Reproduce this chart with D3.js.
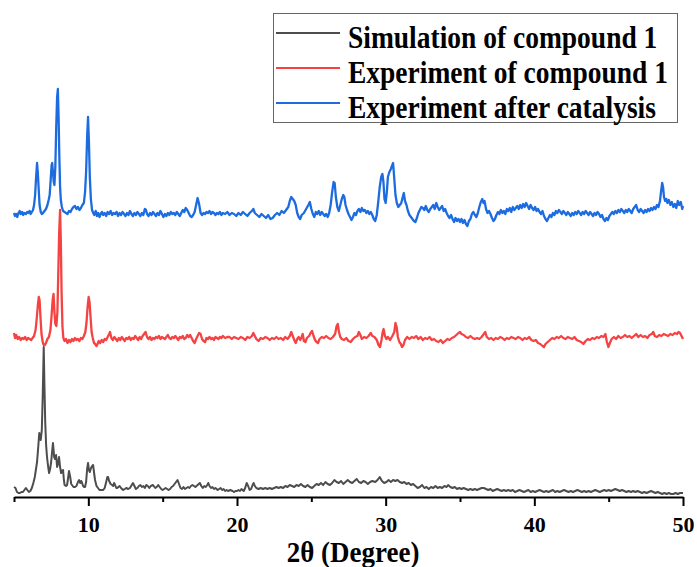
<!DOCTYPE html>
<html>
<head>
<meta charset="utf-8">
<script src="https://cdn.jsdelivr.net/npm/d3@7"></script>
<style>
  body { margin: 0; background: #fff; }
</style>
</head>
<body>
<div id="chart"></div>
<script>
const seriesNames  = ["Simulation of compound 1", "Experiment of compound 1", "Experiment after catalysis"];
const seriesColors = ["#4d4d4d", "#f54242", "#1c6ce0"];
const seriesOffset = [0, 145, 270];
const majorTicks = [10, 20, 30, 40, 50];
const minorTicks = [5, 15, 25, 35, 45];
const serif = '"Liberation Serif"';

// [2θ, intensity]
const simulation = [[5.0,10],[5.1,9],[5.2,5],[5.3,4],[5.4,4],[5.5,5],[5.6,5],[5.7,7],[5.8,9],[5.9,7],[6.0,5],[6.1,6],[6.2,9],[6.3,14],[6.4,20],[6.5,30],[6.55,35],[6.62,48],[6.7,64],[6.76,58],[6.8,57],[6.87,67],[6.93,100],[7.0,150],[7.05,110],[7.1,75],[7.16,52],[7.22,40],[7.3,30],[7.36,24],[7.43,28],[7.5,35],[7.56,45],[7.62,54],[7.67,46],[7.7,40],[7.76,38],[7.83,42],[7.9,30],[7.96,33],[8.03,40],[8.1,30],[8.17,24],[8.23,26],[8.3,27],[8.35,18],[8.4,12],[8.5,11],[8.57,12],[8.63,18],[8.7,26],[8.78,20],[8.85,13],[8.9,12],[9.0,10],[9.1,10],[9.2,11],[9.3,15],[9.38,17],[9.45,14],[9.52,16],[9.58,14],[9.65,11],[9.72,10],[9.78,10],[9.85,15],[9.92,28],[9.98,34],[10.04,27],[10.1,25],[10.18,29],[10.26,31],[10.32,32],[10.38,25],[10.45,17],[10.55,11],[10.65,9],[10.75,7],[10.85,7],[11.0,7],[11.1,9],[11.2,15],[11.28,20],[11.33,20],[11.4,16],[11.5,13],[11.6,12],[11.67,11],[11.73,14],[11.8,12],[11.88,9],[11.94,9],[12.02,10],[12.1,11],[12.2,9],[12.34,7],[12.45,8],[12.55,9],[12.68,8],[12.8,9],[12.92,12],[13.0,14],[13.1,11],[13.2,8],[13.3,9],[13.4,11],[13.5,12],[13.6,10],[13.7,11],[13.8,9],[13.9,12],[14.0,11],[14.1,9],[14.2,11],[14.35,12],[14.5,9],[14.6,10],[14.7,12],[14.8,10],[14.9,8],[15.0,7],[15.1,8],[15.2,9],[15.3,8],[15.4,7],[15.5,8],[15.6,10],[15.7,11],[15.8,13],[15.9,15],[16.0,17],[16.1,13],[16.2,9],[16.3,8],[16.4,10],[16.5,8],[16.6,9],[16.7,10],[16.8,9],[16.9,11],[17.0,12],[17.1,11],[17.2,10],[17.35,12],[17.5,14],[17.6,11],[17.7,9],[17.8,11],[17.9,10],[18.0,12],[18.07,14],[18.15,11],[18.25,9],[18.35,10],[18.45,8],[18.55,9],[18.7,7],[18.8,8],[18.9,9],[19.0,7],[19.1,8],[19.2,6],[19.3,7],[19.4,6],[19.55,7],[19.7,6],[19.8,5],[19.9,6],[20.0,6],[20.1,7],[20.2,6],[20.3,8],[20.45,6],[20.55,9],[20.65,14],[20.75,11],[20.85,7],[20.95,8],[21.05,12],[21.12,14],[21.2,11],[21.3,9],[21.45,8],[21.6,9],[21.75,8],[21.9,9],[22.05,8],[22.2,9],[22.35,8],[22.5,9],[22.65,10],[22.8,9],[22.95,10],[23.1,9],[23.25,11],[23.4,10],[23.55,12],[23.7,11],[23.85,10],[24.0,12],[24.15,11],[24.3,13],[24.45,11],[24.6,10],[24.75,12],[24.9,10],[25.05,9],[25.2,11],[25.35,13],[25.5,12],[25.65,14],[25.8,12],[25.95,15],[26.1,13],[26.25,12],[26.4,14],[26.55,17],[26.7,15],[26.85,14],[27.0,16],[27.15,13],[27.3,15],[27.45,17],[27.6,15],[27.75,14],[27.9,16],[28.05,18],[28.2,15],[28.35,14],[28.5,16],[28.65,15],[28.8,13],[28.95,15],[29.1,16],[29.3,15],[29.45,17],[29.6,20],[29.75,16],[29.9,14],[30.05,15],[30.2,17],[30.35,15],[30.5,17],[30.65,16],[30.8,17],[30.95,15],[31.1,14],[31.25,15],[31.4,13],[31.55,14],[31.7,12],[31.85,13],[32.0,11],[32.15,9],[32.3,10],[32.45,12],[32.6,9],[32.75,10],[32.9,8],[33.05,10],[33.2,9],[33.35,11],[33.5,9],[33.65,10],[33.8,9],[33.95,11],[34.1,10],[34.2,12],[34.35,10],[34.5,9],[34.65,10],[34.8,8],[34.95,9],[35.1,8],[35.25,9],[35.4,8],[35.55,7],[35.7,8],[35.85,7],[36.0,8],[36.15,7],[36.3,8],[36.45,9],[36.6,9],[36.75,8],[36.9,7],[37.05,8],[37.2,6],[37.35,7],[37.5,8],[37.65,7],[37.8,6],[37.95,7],[38.1,6],[38.25,7],[38.4,6],[38.55,7],[38.7,5],[38.85,6],[39.0,7],[39.15,6],[39.3,5],[39.45,6],[39.6,7],[39.75,5],[39.9,6],[40.05,5],[40.2,6],[40.35,7],[40.5,6],[40.65,5],[40.8,6],[40.95,5],[41.1,6],[41.25,7],[41.4,5],[41.55,6],[41.7,5],[41.85,6],[42.0,7],[42.15,6],[42.3,5],[42.45,6],[42.6,5],[42.75,6],[42.9,7],[43.05,6],[43.2,5],[43.35,6],[43.5,5],[43.65,6],[43.8,5],[43.95,6],[44.1,7],[44.25,6],[44.4,5],[44.55,6],[44.7,7],[44.85,6],[45.0,7],[45.15,6],[45.3,7],[45.45,8],[45.6,7],[45.75,6],[45.9,7],[46.05,6],[46.2,5],[46.35,6],[46.5,5],[46.65,6],[46.8,5],[46.95,6],[47.1,5],[47.25,4],[47.4,5],[47.55,4],[47.7,5],[47.85,6],[48.0,5],[48.15,4],[48.3,5],[48.45,4],[48.6,3],[48.75,4],[48.9,3],[49.05,4],[49.2,3],[49.35,3],[49.5,4],[49.65,3],[49.8,4],[50.0,4]];

const experiment = [[5.0,19],[5.07,14],[5.15,17],[5.25,13],[5.35,15],[5.45,12],[5.55,14],[5.65,13],[5.75,15],[5.85,12],[5.95,14],[6.05,13],[6.15,12],[6.25,14],[6.35,16],[6.45,22],[6.52,32],[6.6,46],[6.67,55],[6.72,52],[6.78,35],[6.85,18],[6.93,10],[7.0,7],[7.08,7],[7.15,9],[7.25,13],[7.35,15],[7.45,22],[7.52,35],[7.6,52],[7.66,58],[7.72,40],[7.78,28],[7.85,26],[7.92,40],[7.98,80],[8.04,120],[8.1,142],[8.15,110],[8.2,60],[8.26,25],[8.32,14],[8.4,11],[8.5,13],[8.6,9],[8.7,12],[8.8,10],[8.9,13],[9.0,11],[9.1,14],[9.2,12],[9.3,13],[9.4,11],[9.5,14],[9.6,13],[9.7,16],[9.8,20],[9.88,30],[9.95,45],[10.02,55],[10.08,50],[10.15,35],[10.22,20],[10.3,14],[10.38,9],[10.46,8],[10.55,6],[10.62,8],[10.7,11],[10.8,9],[10.9,12],[11.0,10],[11.1,13],[11.2,12],[11.3,15],[11.4,18],[11.46,20],[11.55,14],[11.65,12],[11.75,15],[11.85,13],[11.95,11],[12.05,14],[12.15,12],[12.25,15],[12.35,13],[12.45,11],[12.55,14],[12.65,13],[12.75,15],[12.85,12],[12.95,14],[13.05,13],[13.15,16],[13.25,14],[13.35,12],[13.45,15],[13.55,13],[13.65,16],[13.75,18],[13.85,20],[13.95,15],[14.05,13],[14.15,15],[14.25,12],[14.35,14],[14.45,13],[14.55,15],[14.65,14],[14.75,16],[14.85,13],[14.95,15],[15.05,14],[15.15,13],[15.25,15],[15.35,17],[15.45,14],[15.55,13],[15.65,15],[15.75,14],[15.85,16],[15.95,14],[16.05,12],[16.15,15],[16.25,14],[16.35,16],[16.45,13],[16.55,14],[16.65,17],[16.75,15],[16.85,17],[16.95,14],[17.05,11],[17.15,9],[17.25,13],[17.35,16],[17.45,19],[17.55,18],[17.65,13],[17.75,11],[17.85,10],[17.95,14],[18.05,13],[18.15,15],[18.25,13],[18.35,14],[18.45,12],[18.55,15],[18.65,14],[18.75,13],[18.85,15],[18.95,14],[19.05,16],[19.2,14],[19.35,15],[19.5,15],[19.65,13],[19.8,15],[19.95,14],[20.1,13],[20.25,15],[20.4,14],[20.55,12],[20.7,15],[20.85,14],[21.0,16],[21.1,19],[21.2,16],[21.3,13],[21.45,11],[21.6,14],[21.75,13],[21.9,15],[22.05,14],[22.2,12],[22.35,14],[22.5,13],[22.65,15],[22.8,13],[22.95,14],[23.1,12],[23.25,15],[23.4,13],[23.55,16],[23.65,20],[23.75,16],[23.85,12],[23.95,9],[24.05,13],[24.15,15],[24.25,12],[24.35,15],[24.42,18],[24.5,11],[24.6,10],[24.7,14],[24.85,16],[24.95,19],[25.05,21],[25.15,16],[25.25,12],[25.35,10],[25.45,9],[25.55,13],[25.7,15],[25.85,14],[26.0,16],[26.15,14],[26.3,13],[26.45,15],[26.6,18],[26.7,26],[26.78,28],[26.86,20],[26.95,15],[27.05,13],[27.2,12],[27.35,14],[27.5,11],[27.65,10],[27.8,13],[27.95,15],[28.1,16],[28.2,20],[28.3,17],[28.4,13],[28.55,15],[28.7,14],[28.85,16],[29.0,19],[29.1,16],[29.25,15],[29.4,12],[29.52,7],[29.62,5],[29.72,12],[29.8,20],[29.86,23],[29.95,16],[30.05,13],[30.15,15],[30.3,12],[30.45,16],[30.58,20],[30.66,29],[30.74,25],[30.82,15],[30.92,10],[31.02,8],[31.1,5],[31.2,7],[31.3,12],[31.45,15],[31.6,13],[31.75,15],[31.9,14],[32.05,16],[32.2,13],[32.35,15],[32.5,12],[32.65,14],[32.8,13],[32.95,15],[33.1,12],[33.25,13],[33.4,11],[33.55,10],[33.7,12],[33.85,9],[34.0,11],[34.15,13],[34.3,12],[34.45,14],[34.6,15],[34.75,17],[34.9,19],[35.0,20],[35.1,18],[35.25,17],[35.4,15],[35.55,14],[35.7,16],[35.85,14],[36.0,13],[36.15,14],[36.3,13],[36.45,15],[36.6,18],[36.7,20],[36.8,15],[36.95,13],[37.1,14],[37.25,12],[37.4,14],[37.55,13],[37.7,15],[37.85,14],[38.0,12],[38.15,14],[38.3,13],[38.45,15],[38.6,14],[38.75,13],[38.9,15],[39.05,14],[39.2,12],[39.35,14],[39.5,13],[39.65,15],[39.8,12],[39.95,11],[40.1,12],[40.25,9],[40.4,8],[40.55,6],[40.65,5],[40.75,8],[40.9,10],[41.05,12],[41.2,14],[41.35,13],[41.5,15],[41.65,14],[41.8,16],[41.95,14],[42.1,13],[42.25,15],[42.4,14],[42.55,13],[42.7,15],[42.85,12],[43.0,11],[43.15,10],[43.3,8],[43.45,11],[43.6,13],[43.75,12],[43.9,14],[44.05,13],[44.2,15],[44.35,14],[44.5,16],[44.65,15],[44.78,18],[44.88,10],[44.98,5],[45.08,9],[45.2,13],[45.35,15],[45.5,13],[45.65,16],[45.8,14],[45.95,15],[46.1,17],[46.25,15],[46.4,16],[46.55,14],[46.7,16],[46.85,18],[47.0,15],[47.15,17],[47.3,15],[47.45,16],[47.6,14],[47.75,17],[47.9,18],[48.0,20],[48.1,16],[48.25,15],[48.4,17],[48.55,16],[48.7,18],[48.85,17],[49.0,16],[49.15,18],[49.3,17],[49.45,19],[49.6,18],[49.7,20],[49.8,19],[49.9,16],[50.0,13]];

const afterCatalysis = [[5.0,14],[5.07,11],[5.15,13],[5.22,10],[5.3,14],[5.38,16],[5.45,13],[5.55,15],[5.62,12],[5.7,14],[5.8,13],[5.88,15],[5.95,14],[6.05,16],[6.12,13],[6.2,15],[6.28,17],[6.35,22],[6.42,32],[6.48,48],[6.55,64],[6.6,55],[6.66,38],[6.72,22],[6.8,15],[6.87,13],[6.95,14],[7.05,16],[7.15,18],[7.25,22],[7.33,27],[7.4,32],[7.47,48],[7.53,62],[7.57,64],[7.62,55],[7.67,45],[7.72,42],[7.78,60],[7.84,100],[7.9,130],[7.95,138],[8.0,110],[8.05,70],[8.1,40],[8.15,27],[8.22,20],[8.3,16],[8.4,15],[8.5,14],[8.6,13],[8.7,16],[8.8,15],[8.9,18],[9.0,20],[9.1,21],[9.2,18],[9.3,20],[9.4,17],[9.5,19],[9.6,22],[9.7,24],[9.78,35],[9.85,55],[9.92,90],[9.98,110],[10.04,85],[10.1,50],[10.17,28],[10.25,17],[10.33,14],[10.4,12],[10.5,16],[10.58,11],[10.67,14],[10.75,10],[10.83,13],[10.92,15],[11.0,12],[11.1,14],[11.2,11],[11.3,15],[11.4,13],[11.5,16],[11.6,12],[11.7,14],[11.8,13],[11.9,15],[12.0,11],[12.1,14],[12.2,12],[12.3,15],[12.4,13],[12.5,11],[12.6,14],[12.7,12],[12.8,16],[12.9,13],[13.0,11],[13.1,14],[13.2,12],[13.3,15],[13.4,13],[13.5,11],[13.6,14],[13.7,12],[13.8,18],[13.88,17],[13.95,13],[14.05,11],[14.15,14],[14.25,12],[14.35,15],[14.45,13],[14.55,11],[14.65,14],[14.75,12],[14.85,16],[14.95,13],[15.05,10],[15.15,13],[15.25,11],[15.35,14],[15.45,12],[15.55,15],[15.65,13],[15.75,14],[15.85,12],[15.95,15],[16.05,13],[16.15,11],[16.25,14],[16.35,17],[16.45,15],[16.55,19],[16.65,17],[16.75,14],[16.85,11],[16.95,10],[17.05,12],[17.15,15],[17.25,22],[17.35,29],[17.45,23],[17.55,14],[17.65,12],[17.75,14],[17.85,13],[17.95,15],[18.05,14],[18.15,16],[18.25,13],[18.35,15],[18.45,14],[18.55,12],[18.65,14],[18.75,13],[18.85,15],[18.95,12],[19.05,14],[19.2,13],[19.35,15],[19.5,12],[19.65,14],[19.8,13],[19.95,11],[20.1,14],[20.25,12],[20.4,15],[20.55,13],[20.7,11],[20.85,14],[21.0,16],[21.1,18],[21.2,14],[21.35,12],[21.5,10],[21.65,13],[21.8,11],[21.95,9],[22.1,12],[22.25,8],[22.4,9],[22.55,12],[22.7,14],[22.85,12],[23.0,16],[23.15,14],[23.3,17],[23.45,20],[23.55,26],[23.65,30],[23.75,28],[23.85,26],[23.95,22],[24.05,14],[24.15,10],[24.25,8],[24.35,12],[24.5,14],[24.65,18],[24.8,22],[24.9,25],[25.0,18],[25.1,13],[25.2,10],[25.3,15],[25.4,13],[25.5,16],[25.6,12],[25.7,15],[25.8,13],[25.9,11],[26.0,13],[26.1,10],[26.2,14],[26.3,22],[26.4,35],[26.5,45],[26.57,44],[26.65,30],[26.75,20],[26.85,16],[26.95,22],[27.05,28],[27.15,32],[27.22,30],[27.3,22],[27.4,17],[27.5,13],[27.6,10],[27.7,7],[27.8,10],[27.9,14],[28.0,12],[28.1,16],[28.2,18],[28.3,15],[28.4,19],[28.5,16],[28.6,17],[28.7,14],[28.8,16],[28.9,13],[29.0,15],[29.1,12],[29.2,8],[29.3,6],[29.4,12],[29.5,25],[29.6,40],[29.7,50],[29.78,53],[29.85,45],[29.92,28],[30.0,24],[30.08,35],[30.15,50],[30.25,55],[30.35,58],[30.45,62],[30.5,64],[30.58,48],[30.66,32],[30.75,24],[30.85,20],[30.95,22],[31.05,24],[31.15,30],[31.22,34],[31.3,26],[31.4,22],[31.5,16],[31.6,12],[31.7,10],[31.8,8],[31.9,6],[32.0,5],[32.1,9],[32.2,14],[32.3,17],[32.4,20],[32.5,19],[32.6,17],[32.7,21],[32.8,17],[32.9,15],[33.0,18],[33.1,20],[33.2,22],[33.3,18],[33.4,24],[33.5,20],[33.6,17],[33.7,19],[33.8,21],[33.9,16],[34.0,18],[34.1,14],[34.2,11],[34.3,9],[34.4,12],[34.5,8],[34.6,5],[34.7,9],[34.8,6],[34.9,8],[35.0,5],[35.1,8],[35.2,4],[35.3,7],[35.4,3],[35.5,1],[35.6,6],[35.7,8],[35.8,13],[35.9,15],[36.0,12],[36.1,10],[36.2,14],[36.3,20],[36.4,25],[36.5,28],[36.58,24],[36.65,26],[36.75,18],[36.85,14],[36.95,16],[37.05,13],[37.15,9],[37.25,6],[37.35,8],[37.45,12],[37.55,15],[37.65,13],[37.75,17],[37.85,14],[37.95,16],[38.05,13],[38.15,18],[38.25,16],[38.35,19],[38.45,15],[38.55,20],[38.65,17],[38.75,19],[38.85,21],[38.95,18],[39.05,22],[39.15,19],[39.25,23],[39.35,20],[39.45,24],[39.55,21],[39.65,18],[39.75,22],[39.85,19],[39.95,17],[40.05,20],[40.15,16],[40.25,18],[40.35,15],[40.45,13],[40.55,16],[40.65,11],[40.75,8],[40.85,6],[40.95,9],[41.05,12],[41.15,10],[41.25,14],[41.35,12],[41.45,16],[41.55,14],[41.65,17],[41.75,15],[41.85,13],[41.95,16],[42.05,14],[42.15,12],[42.25,15],[42.35,13],[42.45,11],[42.55,14],[42.65,12],[42.75,15],[42.85,13],[42.95,16],[43.05,14],[43.15,12],[43.25,15],[43.35,13],[43.45,16],[43.55,14],[43.65,12],[43.75,15],[43.85,13],[43.95,11],[44.05,14],[44.15,12],[44.25,15],[44.35,13],[44.45,10],[44.55,12],[44.65,8],[44.75,6],[44.85,9],[44.95,7],[45.05,11],[45.15,13],[45.25,15],[45.35,13],[45.45,16],[45.55,14],[45.65,17],[45.75,15],[45.85,18],[45.95,16],[46.05,14],[46.15,17],[46.25,15],[46.35,18],[46.45,16],[46.55,14],[46.65,18],[46.75,20],[46.85,22],[46.95,17],[47.05,15],[47.15,18],[47.25,16],[47.35,14],[47.45,17],[47.55,15],[47.65,18],[47.75,16],[47.85,19],[47.95,17],[48.05,20],[48.15,18],[48.25,22],[48.35,20],[48.45,26],[48.52,35],[48.6,44],[48.66,40],[48.72,30],[48.8,26],[48.88,28],[48.95,24],[49.05,27],[49.15,22],[49.25,25],[49.35,20],[49.45,23],[49.55,19],[49.65,26],[49.75,22],[49.85,25],[49.95,18],[50.0,21]];

const allSeries = [simulation, experiment, afterCatalysis];

const width  = 697;
const height = 567;

const svg = d3.select("#chart")
              .append("svg")
              .attr("width", width)
              .attr("height", height);

const xScale = d3.scaleLinear().domain([5, 50]).range([14, 683]);
const yScale = d3.scaleLinear().domain([0, 480]).range([497, 17]);

// patterns, stacked with offsets
allSeries.forEach((data, i) => {
    svg.append("path")
       .datum(data)
       .attr("fill", "none")
       .attr("stroke", seriesColors[i])
       .attr("stroke-width", i === 0 ? 2 : 2.3)
       .attr("stroke-linejoin", "round")
       .attr("d", d3.line()
                    .x(d => xScale(d[0]))
                    .y(d => yScale(d[1] + seriesOffset[i])));
});

// bottom axis
const axisG = svg.append("g")
   .attr("transform", "translate(0, 497)")
   .call(d3.axisBottom(xScale)
           .tickValues(majorTicks)
           .tickFormat(d3.format("d"))
           .tickSize(9)
           .tickSizeOuter(0)
           .tickPadding(10));

axisG.attr("font-family", null).attr("font-size", null);
axisG.select(".domain").attr("stroke-width", 2);
axisG.selectAll(".tick line").attr("stroke-width", 2);
axisG.selectAll(".tick text")
     .style("font-size", "22px")
     .style("font-family", serif)
     .style("font-weight", "bold")
     .attr("fill", "#000");

const minorG = svg.append("g")
   .attr("transform", "translate(0, 497)")
   .call(d3.axisBottom(xScale)
           .tickValues(minorTicks)
           .tickFormat("")
           .tickSize(5)
           .tickSizeOuter(0));
minorG.select(".domain").remove();
minorG.selectAll(".tick line").attr("stroke-width", 2);

// glyphs in the picture are a little taller than wide
svg.append("text")
   .attr("transform", "translate(353, 562) scale(1, 1.12)")
   .style("font-size", "27px")
   .style("font-family", serif)
   .style("font-weight", "bold")
   .style("text-anchor", "middle")
   .text("2θ (Degree)");

// legend
const legend = svg.append("g");

legend.append("rect")
      .attr("x", 273.5)
      .attr("y", 13.5)
      .attr("width", 404)
      .attr("height", 109)
      .attr("fill", "#fff")
      .attr("stroke", "#666")
      .attr("stroke-width", 1);

seriesNames.forEach((name, i) => {
    const yy = 33 + i * 35;
    legend.append("line")
          .attr("x1", 276).attr("x2", 340)
          .attr("y1", yy).attr("y2", yy)
          .attr("stroke", seriesColors[i])
          .attr("stroke-width", 2);
    legend.append("text")
          .attr("transform", `translate(348, ${yy + 15}) scale(1, 1.12)`)
          .style("font-size", "27.5px")
          .style("font-family", serif)
          .style("font-weight", "bold")
          .text(name);
});
</script>
</body>
</html>
